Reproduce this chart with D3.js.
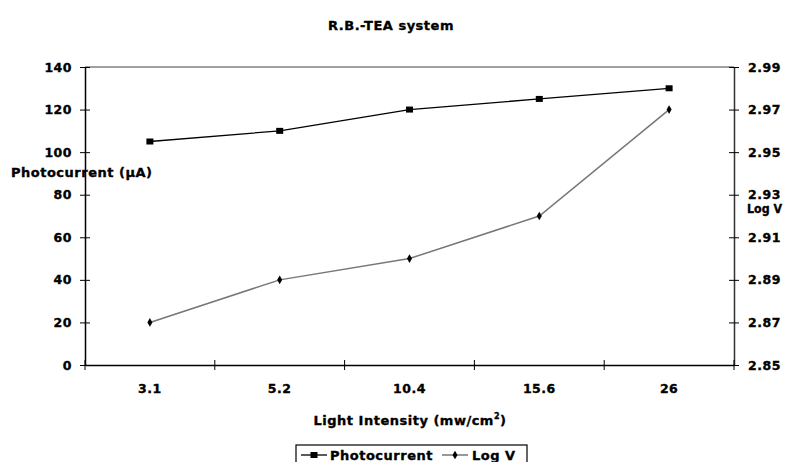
<!DOCTYPE html>
<html><head><meta charset="utf-8">
<script src="https://cdn.jsdelivr.net/npm/d3@7"></script>
<style>
body{margin:0;background:#fff;}
svg text{font-family:"DejaVu Sans",sans-serif;font-weight:bold;fill:#000;stroke:#000;stroke-width:0.35px;letter-spacing:0.5px;}
</style></head>
<body>
<svg id="c" width="785" height="462"></svg>
<script>
const categories = ["3.1","5.2","10.4","15.6","26"];
const photocurrent = [105,110,120,125,130];
const logV = [2.87,2.89,2.90,2.92,2.97];
const leftTicks = [0,20,40,60,80,100,120,140];
const rightTicks = [2.85,2.87,2.89,2.91,2.93,2.95,2.97,2.99];

const svg = d3.select("#c");
const L=85, R=734, T=67, B=365;
const x = d3.scaleBand().domain(categories).range([L,R]);
const yL = d3.scaleLinear().domain([0,140]).range([B,T]);
const yR = d3.scaleLinear().domain([2.85,2.99]).range([B,T]);
const FS = 12.5;

// top border
svg.append("line").attr("x1",L).attr("x2",R).attr("y1",T).attr("y2",T).attr("stroke","#808080").attr("stroke-width",1.5);

function styleText(g){
  g.selectAll("text").attr("font-size",FS).attr("font-family",null).style("font-family","DejaVu Sans");
}

// left axis
const gL = svg.append("g").attr("transform",`translate(${L},0)`)
  .call(d3.axisLeft(yL).tickValues(leftTicks).tickSize(0).tickPadding(13));
gL.select(".domain").attr("stroke","#000").attr("stroke-width",1.5);
gL.selectAll(".tick line").attr("x1",-5).attr("x2",5).attr("stroke","#000");
styleText(gL);

// right axis
const gR = svg.append("g").attr("transform",`translate(${R},0)`)
  .call(d3.axisRight(yR).tickValues(rightTicks).tickFormat(d3.format(".2f")).tickSize(0).tickPadding(14));
gR.select(".domain").attr("stroke","#333").attr("stroke-width",1.5);
gR.selectAll(".tick line").attr("x1",-5).attr("x2",5).attr("stroke","#000");
styleText(gR);

// bottom axis
const gB = svg.append("g").attr("transform",`translate(0,${B})`)
  .call(d3.axisBottom(x).tickSize(0).tickPadding(19));
gB.select(".domain").attr("stroke","#000").attr("stroke-width",1.5);
gB.selectAll(".tick line").remove();
const bounds = categories.map(c=>x(c)).concat([R]);
gB.selectAll(".bt").data(bounds).enter().append("line")
  .attr("x1",d=>d).attr("x2",d=>d).attr("y1",-5).attr("y2",5).attr("stroke","#000");
styleText(gB);

const cx = c => x(c)+x.bandwidth()/2;

// Log V line
svg.append("path").datum(categories.map((c,i)=>[cx(c),yR(logV[i])]))
  .attr("d",d3.line()).attr("fill","none").attr("stroke","#777").attr("stroke-width",1.5);
// Photocurrent line
svg.append("path").datum(categories.map((c,i)=>[cx(c),yL(photocurrent[i])]))
  .attr("d",d3.line()).attr("fill","none").attr("stroke","#000").attr("stroke-width",1.3);

svg.selectAll(".sq").data(categories).enter().append("rect")
  .attr("x",(c)=>cx(c)-3.5).attr("y",(c,i)=>yL(photocurrent[i])-3).attr("width",7).attr("height",6).attr("fill","#000");
const diamond = d3.symbol().type(d3.symbolDiamond).size(22);
svg.selectAll(".dm").data(categories).enter().append("path")
  .attr("d",diamond).attr("transform",(c,i)=>`translate(${cx(c)},${yR(logV[i])})`).attr("fill","#000");

// titles
svg.append("text").attr("x",391).attr("y",30).attr("text-anchor","middle").attr("font-size",13).text("R.B.-TEA system");
svg.append("text").attr("x",11).attr("y",177).attr("font-size",13).text("Photocurrent (µA)");
svg.append("text").attr("x",747).attr("y",213).attr("font-size",12).style("letter-spacing","0px")
  .attr("textLength",35).attr("lengthAdjust","spacingAndGlyphs").text("Log V");
const xt = svg.append("text").attr("x",410).attr("y",425).attr("text-anchor","middle").attr("font-size",13);
xt.append("tspan").text("Light Intensity (mw/cm");
xt.append("tspan").attr("font-size",8).attr("dy",-6).text("2");
xt.append("tspan").attr("dy",6).text(")");

// legend
const lg = svg.append("g");
lg.append("rect").attr("x",296).attr("y",445).attr("width",231).attr("height",30).attr("fill","#fff").attr("stroke","#000").attr("stroke-width",1.2);
lg.append("line").attr("x1",301).attr("x2",327).attr("y1",455).attr("y2",455).attr("stroke","#000").attr("stroke-width",1.3);
lg.append("rect").attr("x",310.5).attr("y",452).attr("width",7).attr("height",6).attr("fill","#000");
lg.append("text").attr("x",330).attr("y",460).attr("font-size",13).text("Photocurrent");
lg.append("line").attr("x1",442).attr("x2",468).attr("y1",455).attr("y2",455).attr("stroke","#777").attr("stroke-width",1.5);
lg.append("path").attr("d",diamond).attr("transform","translate(455,455)").attr("fill","#000");
lg.append("text").attr("x",472).attr("y",460).attr("font-size",13).text("Log V");
</script>
</body></html>
